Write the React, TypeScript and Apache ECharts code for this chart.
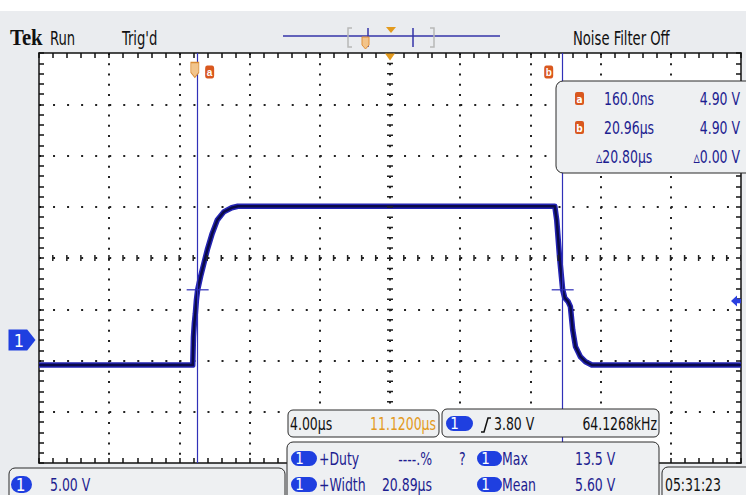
import React, { useEffect, useRef } from 'react';
import * as echarts from 'echarts';

// ---- data (µs, V) ----
const timeUs = [-8.88, -0.12, -0.08, -0.03, 0.03, 0.09, 0.16, 0.33, 0.52, 0.71, 0.99, 1.28, 1.65, 2.1, 2.45, 3.0,
  20.51, 20.62, 20.78, 20.89, 20.96, 21.08, 21.27, 21.4, 21.53, 21.69, 21.97, 22.26, 22.62, 31.12];
const volts = [-2.45, -2.45, 0.3, 1.6, 2.6, 3.9, 4.9, 6.2, 7.5, 8.8, 10.4, 11.7, 12.5, 12.9, 13.05, 13.05,
  13.05, 11.7, 8.1, 6.15, 4.9, 4.1, 3.74, 3.25, 1.0, -0.65, -1.63, -2.12, -2.44, -2.45];
const xRange = [-8.88, 31.12];
const yRange = [-12, 28];
const divisions = [10, 8];
const cursorTimes = [0.16, 20.96];
const cursorVolts = [4.9, 4.9];
const triggerLevel = 3.8;
const centerTime = 11.12;
const cursorReadTimes = ['160.0ns', '20.96\u00b5s', '\u25b520.80\u00b5s'];
const cursorReadVolts = ['4.90 V', '4.90 V', '\u25b50.00 V'];
const measureLabels = ['+Duty', '+Width'];
const measureValues = ['----.%', '20.89\u00b5s'];
const statLabels = ['Max', 'Mean'];
const statValues = ['13.5 V', '5.60 V'];

const FONT = '"Liberation Sans Narrow", "DejaVu Sans Condensed", "Arial Narrow", sans-serif';
const NAVY = '#1d1d90';
const PILL = '#1f3fe0';
const ORANGE = '#e39a1d';
const CUR_OR = '#d9581f';
const PANEL = '#eef0f2';
const BG = '#eaecef';
const TRACE = '#2424b4';
const CURSOR = '#3030b8';
const SX = 0.77;

function txt(x: number, y: number, text: string, fill: string, size = 18, align = 'left') {
  return {
    type: 'text', x, y, z: 110, scaleX: SX,
    style: { text, fill, font: `${size}px ${FONT}`, align, verticalAlign: 'middle' },
  };
}
function pill(x: number, y: number, w: number, h: number) {
  return {
    type: 'group', x, y, z: 110,
    children: [
      { type: 'rect', shape: { x: 0, y: 0, width: w, height: h, r: h / 2 }, style: { fill: PILL }, z: 110 },
      { type: 'text', x: h / 2 + 1, y: h / 2 + 0.5, z: 111, style: { text: '1', fill: '#fff', font: `${h}px ${FONT}`, align: 'center', verticalAlign: 'middle' } },
    ],
  };
}
function box(x: number, y: number, w: number, h: number, r = 6) {
  return { type: 'rect', z: 105, shape: { x, y, width: w, height: h, r }, style: { fill: PANEL, stroke: '#2a2a2a', lineWidth: 1 } };
}
function curIcon(x: number, y: number, ch: string) {
  return {
    type: 'group', x, y, z: 110,
    children: [
      { type: 'rect', shape: { x: 0, y: 0, width: 9, height: 13, r: 2 }, style: { fill: CUR_OR }, z: 110 },
      { type: 'text', x: 4.5, y: 7, z: 111, style: { text: ch, fill: '#fff', font: `bold 10px ${FONT}`, align: 'center', verticalAlign: 'middle' } },
    ],
  };
}

export default function App() {
  const ref = useRef<HTMLDivElement>(null);
  useEffect(() => {
    document.body.style.margin = '0';
    const chart = echarts.init(ref.current!, undefined, { renderer: 'svg' });
    const trace = timeUs.map((t, i) => [t, volts[i]]);
    const gratAxis = (pos: string, max: number, split: boolean, dash: number[]) => ({
      type: 'value', min: 0, max, interval: 1, position: pos,
      axisLine: { show: true, onZero: false, lineStyle: { color: '#111', width: 1.5 } },
      axisTick: { show: true, inside: true, length: 5, lineStyle: { color: '#111', width: 1.5 } },
      minorTick: { show: true, splitNumber: 5, length: 5, lineStyle: { color: '#111', width: 1.5 } },
      axisLabel: { show: false },
      splitLine: { show: split, showMinLine: false, showMaxLine: false, lineStyle: { color: '#222', width: 2, type: dash } },
    });
    const graphic: any[] = [
      { type: 'rect', z: 1, shape: { x: 0, y: 0, width: 746, height: 11 }, style: { fill: '#fff' } },
      { type: 'text', x: 10, y: 38, z: 110, scaleX: 0.9, style: { text: 'Tek', fill: '#111', font: 'bold 23px "Liberation Serif", serif', verticalAlign: 'middle' } },
      txt(50, 38, 'Run', '#111', 19),
      txt(122, 38, "Trig'd", '#111', 19),
      txt(573, 38, 'Noise Filter Off', '#111', 19),
      { type: 'line', z: 110, shape: { x1: 283, y1: 36, x2: 500, y2: 36 }, style: { stroke: '#3535a8', lineWidth: 1.5 } },
      { type: 'polyline', z: 110, shape: { points: [[352, 28], [348, 28], [348, 47], [352, 47]] }, style: { stroke: '#b8b8b8', lineWidth: 1.5, fill: 'none' } },
      { type: 'polyline', z: 110, shape: { points: [[430, 28], [434, 28], [434, 47], [430, 47]] }, style: { stroke: '#b8b8b8', lineWidth: 1.5, fill: 'none' } },
      { type: 'line', z: 111, shape: { x1: 368, y1: 28, x2: 368, y2: 47 }, style: { stroke: '#3535a8', lineWidth: 1.5 } },
      { type: 'line', z: 111, shape: { x1: 413, y1: 28, x2: 413, y2: 47 }, style: { stroke: '#3535a8', lineWidth: 1.5 } },
      { type: 'polygon', z: 111, shape: { points: [[386, 27], [396, 27], [391, 33]] }, style: { fill: ORANGE } },
      { type: 'polygon', z: 112, shape: { points: [[362, 37], [369, 37], [369, 45], [365.5, 49], [362, 45]] }, style: { fill: '#f3c48a', stroke: '#e0903a', lineWidth: 1 } },

      // cursor readout box
      box(556, 81, 200, 92, 7),
      curIcon(575, 92, 'a'),
      curIcon(575, 121, 'b'),
      txt(604, 99, cursorReadTimes[0], NAVY),
      txt(604, 128, cursorReadTimes[1], NAVY),
      txt(596, 157, cursorReadTimes[2], NAVY),
      txt(740, 99, cursorReadVolts[0], NAVY, 18, 'right'),
      txt(740, 128, cursorReadVolts[1], NAVY, 18, 'right'),
      txt(740, 157, cursorReadVolts[2], NAVY, 18, 'right'),

      // bottom left channel box
      box(9, 468, 276, 40),
      pill(11, 476, 21, 17),
      txt(50, 485, '5.00 V', NAVY),

      // timebase box
      box(288, 410, 151, 27, 5),
      txt(290, 424, '4.00\u00b5s', '#111'),
      txt(436, 424, '11.1200\u00b5s', ORANGE, 18, 'right'),

      // trigger box
      box(442, 409, 217, 28, 5),
      pill(446, 416, 27, 15),
      { type: 'polyline', z: 111, shape: { points: [[481, 432], [484, 432], [488, 418], [491, 418]] }, style: { stroke: '#111', lineWidth: 1.5, fill: 'none' } },
      txt(494, 424, '3.80 V', '#111'),
      txt(657, 424, '64.1268kHz', '#111', 18, 'right'),

      // measurement box
      box(287, 442, 372, 60),
      pill(291, 451, 26, 15),
      pill(291, 477, 26, 15),
      txt(319, 459, measureLabels[0], NAVY),
      txt(319, 485, measureLabels[1], NAVY),
      txt(432, 459, measureValues[0], NAVY, 18, 'right'),
      txt(432, 485, measureValues[1], NAVY, 18, 'right'),
      txt(459, 459, '?', NAVY),
      pill(477, 451, 25, 15),
      pill(477, 477, 25, 15),
      txt(502, 459, statLabels[0], NAVY),
      txt(502, 485, statLabels[1], NAVY),
      txt(575, 459, statValues[0], NAVY),
      txt(575, 485, statValues[1], NAVY),

      // clock box
      box(662, 467, 90, 40),
      txt(665, 485, '05:31:23', '#111'),
    ];

    chart.setOption({
      animation: false,
      backgroundColor: BG,
      grid: { left: 39, top: 53, width: 702, height: 410, show: true, backgroundColor: '#fff', borderWidth: 0 },
      xAxis: [
        { type: 'value', min: xRange[0], max: xRange[1], show: false },
        gratAxis('bottom', divisions[0], true, [2, 8.25]),
        gratAxis('top', divisions[0], false, [2, 8.25]),
      ],
      yAxis: [
        { type: 'value', min: yRange[0], max: yRange[1], show: false },
        gratAxis('left', divisions[1], true, [2, 12.04]),
        gratAxis('right', divisions[1], false, [2, 12.04]),
      ],
      graphic,
      series: [
        {
          type: 'line', xAxisIndex: 1, yAxisIndex: 1, data: [[5, 4]], showSymbol: false, silent: true,
          lineStyle: { width: 0 }, z: 1,
          markLine: {
            silent: true, symbol: ['none', 'none'], label: { show: false },
            data: [
              { xAxis: divisions[0] / 2, lineStyle: { color: '#222', width: 6, type: [1.5, 8.75], dashOffset: 0.75 } },
              { yAxis: divisions[1] / 2, lineStyle: { color: '#222', width: 6, type: [1.5, 12.54], dashOffset: 0.75 } },
            ],
          },
        },
        {
          type: 'line', data: trace, showSymbol: false, silent: true, z: 3,
          lineStyle: { width: 5.5, color: TRACE, join: 'round' },
          markLine: {
            silent: true, symbol: ['none', 'none'], label: { show: false },
            lineStyle: { color: CURSOR, width: 1.2, type: 'solid' },
            data: cursorTimes.map((t) => ({ xAxis: t })),
          },
          markPoint: {
            silent: true,
            data: [
              { coord: [xRange[0], 0], symbol: 'path://M0,0L18,0L26,10L18,20L0,20Z', symbolSize: [27, 21], symbolOffset: [-17, 0],
                itemStyle: { color: PILL }, label: { show: true, formatter: '1', color: '#fff', fontSize: 18, fontFamily: FONT, offset: [-3, 0] } },
              { coord: [xRange[1], triggerLevel], symbol: 'path://M0,5L6,0L6,3L10,3L10,7L6,7L6,10Z', symbolSize: [10, 11], symbolOffset: [-5, 0],
                itemStyle: { color: '#2a3fe0' }, label: { show: false } },
              { coord: [0, yRange[1]], symbol: 'path://M0,0L8,0L8,10L4,15L0,10Z', symbolSize: [8, 15], symbolOffset: [0, 17],
                itemStyle: { color: '#f2c48c', borderColor: '#d98a35', borderWidth: 1 }, label: { show: false } },
              { coord: [cursorTimes[0], yRange[1]], symbol: 'roundRect', symbolSize: [9, 13], symbolOffset: [12, 19],
                itemStyle: { color: CUR_OR }, label: { show: true, formatter: 'a', color: '#fff', fontSize: 10, fontWeight: 'bold' } },
              { coord: [cursorTimes[1], yRange[1]], symbol: 'roundRect', symbolSize: [9, 13], symbolOffset: [-14, 19],
                itemStyle: { color: CUR_OR }, label: { show: true, formatter: 'b', color: '#fff', fontSize: 10, fontWeight: 'bold' } },
              { coord: [centerTime, yRange[1]], symbol: 'triangle', symbolRotate: 180, symbolSize: [10, 7], symbolOffset: [0, 4],
                itemStyle: { color: ORANGE }, label: { show: false } },
            ],
          },
        },
        {
          type: 'line', data: trace, showSymbol: false, silent: true, z: 4,
          lineStyle: { width: 2.5, color: '#0a0a48', join: 'round' },
        },
        {
          type: 'scatter', data: cursorTimes.map((t, i) => [t, cursorVolts[i]]), symbol: 'rect', symbolSize: [22, 1.5],
          itemStyle: { color: CURSOR }, silent: true, z: 5,
        },
      ],
    });
    return () => chart.dispose();
  }, []);
  return <div ref={ref} style={{ width: 746, height: 495 }} />;
}
